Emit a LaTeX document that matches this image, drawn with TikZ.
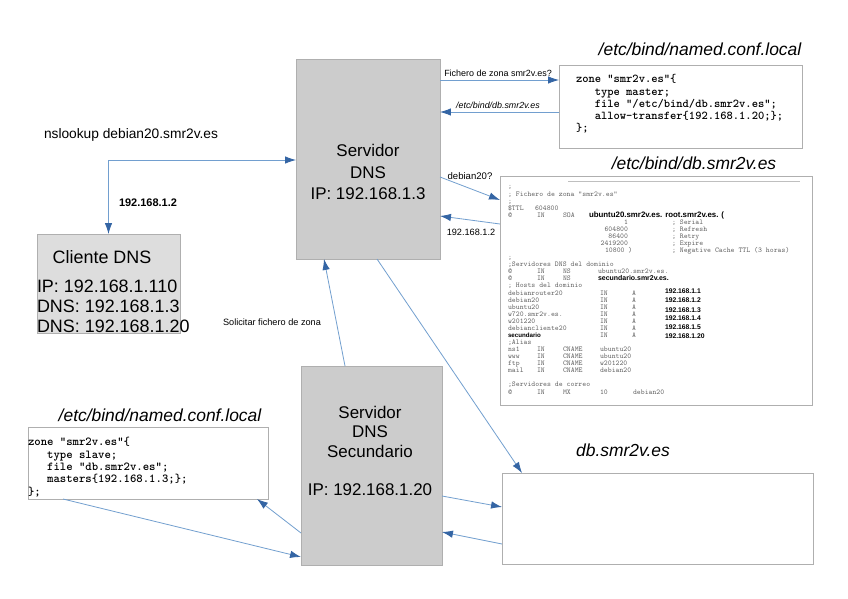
\documentclass[tikz,border=0pt]{standalone}
\usepackage{fontspec}
\setmainfont{Liberation Sans}
\usetikzlibrary{arrows.meta}
\definecolor{lineblue}{RGB}{114,159,207}
\definecolor{headblue}{RGB}{52,101,164}
\definecolor{boxgray}{RGB}{204,204,204}
\definecolor{cligray}{RGB}{221,221,221}
\definecolor{edgegray}{RGB}{175,175,175}
\newcommand\dbl[3]{\node[dbtxt, anchor=base west] at (#1,{189+(#2-1)*7.07}) {#3};}
\newcommand\dbr[3]{\node[dbtxt, anchor=base east] at (#1,{189+(#2-1)*7.07}) {#3};}
\newcommand\dbb[3]{\node[dbbold, anchor=base west] at (#1,{189+(#2-1)*7.07}) {#3};}
\begin{document}
\begin{tikzpicture}[x=1bp,y=-1bp,
  every node/.style={inner sep=0pt, outer sep=0pt},
  srvbox/.style={draw=edgegray, fill=boxgray, line width=0.8pt},
  clibox/.style={draw=edgegray, fill=cligray, line width=0.8pt},
  filebox/.style={draw=edgegray, fill=white, line width=0.8pt},
  bigtxt/.style={font=\fontsize{17}{21.5}\selectfont, align=center},
  clitxt/.style={font=\fontsize{18}{20}\selectfont},
  title/.style={font=\itshape\fontsize{17.5}{20}\selectfont},
  code/.style={font=\ttfamily\bfseries\fontsize{12.2}{12.4}\selectfont, align=left},
  lbl/.style={font=\fontsize{9}{10}\selectfont},
  dbtxt/.style={font=\ttfamily\fontsize{7.4}{8}\selectfont, text=black!60},
  dbbold/.style={font=\bfseries\fontsize{7.9}{8}\selectfont, text=black},
  conn/.style={draw=lineblue, line width=0.8pt, -{Latex[length=11pt,width=7.5pt,color=headblue]}},
  conn2/.style={draw=lineblue, line width=0.8pt, {Latex[length=11pt,width=7.5pt,color=headblue]}-{Latex[length=11pt,width=7.5pt,color=headblue]}}
]
\useasboundingbox[fill=white] (0,0) rectangle (848,599);

% ---------- boxes ----------
\node[srvbox, minimum width=144bp, minimum height=200bp] (srv) at (368,159) {};
\node[bigtxt] (srvtxt) at (368,172) {Servidor\\DNS\\IP: 192.168.1.3};

\node[srvbox, minimum width=141bp, minimum height=199bp] (sec) at (371.5,465.5) {};
\node[bigtxt, font=\fontsize{17}{19.3}\selectfont] (sectxt) at (370,451) {Servidor\\DNS\\Secundario\\\mbox{}\\IP: 192.168.1.20};

\node[clibox, minimum width=143bp, minimum height=99bp] (cli) at (108.5,283.5) {};
\node[clitxt] (clititle) at (102,257) {Cliente DNS};
\node[clitxt, align=left, anchor=west] (cliips) at (37,306) {IP: 192.168.1.110\\DNS: 192.168.1.3\\DNS: 192.168.1.20};

\node[filebox, minimum width=243bp, minimum height=83bp] (cfg1) at (680.5,106.5) {};
\node[code, font=\ttfamily\bfseries\fontsize{12}{12.3}\selectfont, anchor=west] (cfg1txt) at (576,104) {zone “smr2v.es”\{\\\ \ \ type master;\\\ \ \ file “/etc/bind/db.smr2v.es”;\\\ \ \ allow-transfer\{192.168.1.20;\};\\\};};
\node[title] (t1) at (700,49) {/etc/bind/named.conf.local};

\node[filebox, minimum width=240bp, minimum height=72bp] (cfg2) at (148,463) {};
\node[code, anchor=west] (cfg2txt) at (28,467) {zone “smr2v.es”\{\\\ \ \ type slave;\\\ \ \ file “db.smr2v.es”;\\\ \ \ masters\{192.168.1.3;\};\\\};};
\node[title] (t3) at (160,415) {/etc/bind/named.conf.local};

\node[filebox, minimum width=312bp, minimum height=229bp] (db1) at (656,290.5) {};
\node[title] (t2) at (694,163) {/etc/bind/db.smr2v.es};
\draw[black!25, line width=0.6pt] (db1.north west) ++(68,5) coordinate (dbl1) -- ++(232,0) coordinate (dbl2);

\node[filebox, minimum width=311bp, minimum height=91bp] (db2) at (657.5,518.5) {};
\node[title] (t4) at (623,450) {db.smr2v.es};

% ---------- zone file content ----------
\dbl{508}{1}{;}
\dbl{508}{2}{; Fichero de zona "smr2v.es"}
\dbl{508}{3}{;}
\dbl{508}{4}{\$TTL} \dbl{535}{4}{604800}
\dbl{508}{5}{@} \dbl{537}{5}{IN} \dbl{563}{5}{SOA}
\dbb{589}{5}{ubuntu20.smr2v.es. root.smr2v.es. (}
\dbr{628}{6}{1} \dbl{672}{6}{; Serial}
\dbr{628}{7}{604800} \dbl{672}{7}{; Refresh}
\dbr{628}{8}{86400} \dbl{672}{8}{; Retry}
\dbr{628}{9}{2419200} \dbl{672}{9}{; Expire}
\dbl{605}{10}{10800 )} \dbl{672}{10}{; Negative Cache TTL (3 horas)}
\dbl{508}{11}{;}
\dbl{508}{12}{;Servidores DNS del dominio}
\dbl{508}{13}{@} \dbl{537}{13}{IN} \dbl{563}{13}{NS} \dbl{598}{13}{ubuntu20.smr2v.es.}
\dbl{508}{14}{@} \dbl{537}{14}{IN} \dbl{563}{14}{NS}
\node[dbbold, font=\bfseries\fontsize{7}{8}\selectfont, anchor=base west] (dbsec) at (598,{189+13*7.07}) {secundario.smr2v.es.};
\dbl{508}{15}{; Hosts del dominio}
\foreach \r/\n in {16/debianrouter20,17/debian20,18/ubuntu20,19/w720.smr2v.es.,20/w201220,21/debiancliente20}{
  \dbl{508}{\r}{\n} \dbl{600}{\r}{IN} \dbl{632}{\r}{A}
}
\node[dbbold, font=\bfseries\fontsize{6.2}{8}\selectfont, anchor=base west] (dbsec2) at (508,{189+21*7.07}) {secundario};
\dbl{600}{22}{IN} \dbl{632}{22}{A}
\dbl{508}{23}{;Alias}
\foreach \r/\a/\b in {24/ns1/ubuntu20,25/www/ubuntu20,26/ftp/w201220,27/mail/debian20}{
  \dbl{508}{\r}{\a} \dbl{537}{\r}{IN} \dbl{563}{\r}{CNAME} \dbl{600}{\r}{\b}
}
\dbl{508}{29}{;Servidores de correo}
\dbl{508}{30}{@} \dbl{537}{30}{IN} \dbl{563}{30}{MX} \dbl{600}{30}{10} \dbl{633}{30}{debian20}
\foreach \y/\ip in {293.5/192.168.1.1,302.5/192.168.1.2,312.5/192.168.1.3,320.5/192.168.1.4,329.5/192.168.1.5,338.5/192.168.1.20}{
  \node[dbbold, font=\bfseries\fontsize{6.8}{8}\selectfont, anchor=base west] at (665,\y) {\ip};
}

% ---------- connectors ----------
\draw[conn] (srv.east |- 0,80) -- (cfg1.west |- 0,80);
\node[lbl] (l1) at (498,73) {Fichero de zona smr2v.es?};
\draw[conn] (cfg1.west |- 0,112) -- (srv.east |- 0,112);
\node[lbl, font=\itshape\fontsize{8.9}{10}\selectfont] (l2) at (498,105) {/etc/bind/db.smr2v.es};

\draw[conn] (srv.east |- 0,177) -- (db1.west |- 0,200);
\node[lbl, font=\fontsize{9.6}{10}\selectfont] (l3) at (470,176) {debian20?};
\draw[conn] (db1.west |- 0,224) -- (srv.east |- 0,216);
\node[lbl, font=\fontsize{9.2}{10}\selectfont] (l4) at (471,232) {192.168.1.2};

\draw[conn2] (cli.north) |- (srv.west |- 0,160);
\node[lbl, font=\fontsize{13.8}{15}\selectfont] (l5) at (131,135) {nslookup debian20.smr2v.es};
\node[lbl, font=\bfseries\fontsize{11}{12}\selectfont] (l6) at (148,203) {192.168.1.2};

\draw[conn] (sec.north -| 345,0) -- (srv.south -| 324,0);
\node[lbl, font=\fontsize{9.2}{10}\selectfont] (l7) at (272,322) {Solicitar fichero de zona};

\draw[conn] (srv.south -| 377,0) -- (db2.north -| 522,0);

\draw[conn] (sec.east |- 0,496) -- (db2.west |- 0,507);
\draw[conn] (db2.west |- 0,544) -- (sec.east |- 0,532);

\draw[conn] (cfg2.south -| 63,0) -- (sec.west |- 0,557);
\draw[conn] (sec.west |- 0,533) -- (cfg2.south -| 257,0);
\end{tikzpicture}
\end{document}
